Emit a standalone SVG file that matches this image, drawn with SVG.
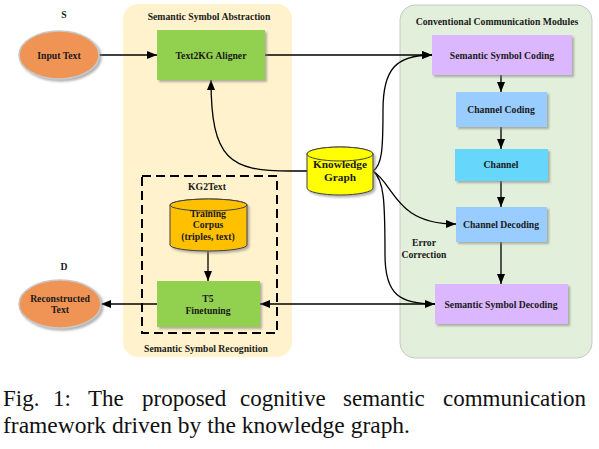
<svg xmlns="http://www.w3.org/2000/svg" width="599" height="449" viewBox="0 0 599 449">
<style>
.lbl{font-family:"Liberation Serif","Times New Roman",serif;font-weight:bold;font-size:9.7px;fill:#1a1a1a;text-anchor:middle}
.kg{font-size:11.3px}
.cap{font-family:"Liberation Serif","Times New Roman",serif;font-size:23px;fill:#111}
.ln{fill:none;stroke:#000;stroke-width:1.3}
.box{filter:url(#sh)}
</style>
<defs>
<filter id="sh" x="-20%" y="-20%" width="140%" height="150%">
<feDropShadow dx="2" dy="2" stdDeviation="1" flood-color="#808080" flood-opacity="0.6"/>
</filter>
<marker id="ah" markerUnits="userSpaceOnUse" markerWidth="10" markerHeight="8" refX="10" refY="4" orient="auto">
<path d="M0,0 L10,4 L0,8 z" fill="#000"/>
</marker>
</defs>

<g id="panels">
<rect x="123" y="4" width="169" height="353" rx="15" fill="#FFF2CC"/>
<rect x="400" y="5" width="192" height="353" rx="15" fill="#E2EFDA" stroke="#C8C8C8" stroke-width="1"/>
<rect x="142" y="176" width="135" height="157" fill="none" stroke="#000" stroke-width="2" stroke-dasharray="9 5"/>
</g>

<g id="labels">
<text class="lbl" x="209" y="20">Semantic Symbol Abstraction</text>
<text class="lbl" x="497" y="25">Conventional Communication Modules</text>
<text class="lbl" x="64" y="18">S</text>
<text class="lbl" x="64" y="270">D</text>
<text class="lbl" x="207" y="190">KG2Text</text>
<text class="lbl" x="206" y="352">Semantic Symbol Recognition</text>
<text class="lbl" x="424" y="246">Error</text>
<text class="lbl" x="424" y="258">Correction</text>
</g>

<g id="connectors">
<path class="ln" d="M99,55 L157,55" marker-end="url(#ah)"/>
<path class="ln" d="M265,55 L432,55" marker-end="url(#ah)"/>
<path class="ln" d="M501,75 L501,92" marker-end="url(#ah)"/>
<path class="ln" d="M501,127 L501,149" marker-end="url(#ah)"/>
<path class="ln" d="M501,181 L501,207" marker-end="url(#ah)"/>
<path class="ln" d="M501,242 L501,284" marker-end="url(#ah)"/>
<path class="ln" d="M307,171 L290,171 C230,171 211,160 211,80" marker-end="url(#ah)"/>
<path class="ln" d="M373,171 C382,165 383,150 383,110 C383,70 395,55 432,55" marker-end="url(#ah)"/>
<path class="ln" d="M373,171 C395,185 395,224 456,224" marker-end="url(#ah)"/>
<path class="ln" d="M373,171 C384,180 385,200 385,255 C385,295 400,304 435,304" marker-end="url(#ah)"/>
<path class="ln" d="M435,304 L260,304" marker-end="url(#ah)"/>
<path class="ln" d="M157,304 L101,304" marker-end="url(#ah)"/>
<path class="ln" d="M208,251 L208,281" marker-end="url(#ah)"/>
</g>

<g id="input-text">
<ellipse class="box" cx="59" cy="55" rx="40" ry="24" fill="#F09456" stroke="#C8C8C8" stroke-width="1.5"/>
<text class="lbl" x="59" y="58.5">Input Text</text>
</g>
<g id="text2kg">
<rect class="box" x="157" y="30" width="108" height="50" fill="#92D050"/>
<text class="lbl" x="211" y="58.5">Text2KG Aligner</text>
</g>
<g id="ssc">
<rect class="box" x="432" y="35" width="140" height="40" fill="#DBB7FF"/>
<text class="lbl" x="502" y="58.5">Semantic Symbol Coding</text>
</g>
<g id="channel-coding">
<rect class="box" x="456" y="92" width="91" height="35" fill="#99CCFF"/>
<text class="lbl" x="501" y="113">Channel Coding</text>
</g>
<g id="channel">
<rect class="box" x="455" y="149" width="93" height="32" fill="#66D6FA"/>
<text class="lbl" x="501" y="168">Channel</text>
</g>
<g id="channel-decoding">
<rect class="box" x="456" y="207" width="91" height="35" fill="#99CCFF"/>
<text class="lbl" x="501" y="228">Channel Decoding</text>
</g>
<g id="ssd">
<rect class="box" x="435" y="284" width="133" height="40" fill="#DBB7FF"/>
<text class="lbl" x="501" y="307.5">Semantic Symbol Decoding</text>
</g>
<g id="knowledge-graph">
<path class="box" d="M307,154 L307,188 A33,7 0 0 0 373,188 L373,154 A33,7 0 0 0 307,154 z" fill="#FFFF00" stroke="#404040" stroke-width="1"/>
<ellipse cx="340" cy="154" rx="33" ry="7" fill="#FFFF00" stroke="#404040" stroke-width="1"/>
<text class="lbl kg" x="340" y="168">Knowledge</text>
<text class="lbl kg" x="340" y="181">Graph</text>
</g>
<g id="training-corpus">
<path class="box" d="M170,205 L170,245 A38.5,6 0 0 0 247,245 L247,205 A38.5,6 0 0 0 170,205 z" fill="#FFC000" stroke="#404040" stroke-width="1"/>
<ellipse cx="208.5" cy="205" rx="38.5" ry="6" fill="#FFC000" stroke="#404040" stroke-width="1"/>
<text class="lbl" x="208" y="216.5">Training</text>
<text class="lbl" x="208" y="228">Corpus</text>
<text class="lbl" x="208" y="239.5">(triples, text)</text>
</g>
<g id="t5">
<rect class="box" x="157" y="281" width="103" height="46" fill="#92D050"/>
<text class="lbl" x="208" y="301.5">T5</text>
<text class="lbl" x="208" y="313.5">Finetuning</text>
</g>
<g id="reconstructed-text">
<ellipse class="box" cx="60" cy="304" rx="41" ry="24" fill="#F09456" stroke="#C8C8C8" stroke-width="1.5"/>
<text class="lbl" x="60" y="301.5">Reconstructed</text>
<text class="lbl" x="60" y="313">Text</text>
</g>

<g id="caption">
<text class="cap" x="3" y="406">Fig.</text>
<text class="cap" x="53" y="406">1:</text>
<text class="cap" x="88" y="406">The</text>
<text class="cap" x="142" y="406">proposed</text>
<text class="cap" x="240" y="406">cognitive</text>
<text class="cap" x="343" y="406">semantic</text>
<text class="cap" x="443" y="406">communication</text>
<text class="cap" x="3" y="433" textLength="407" lengthAdjust="spacingAndGlyphs">framework driven by the knowledge graph.</text>
</g>
</svg>
